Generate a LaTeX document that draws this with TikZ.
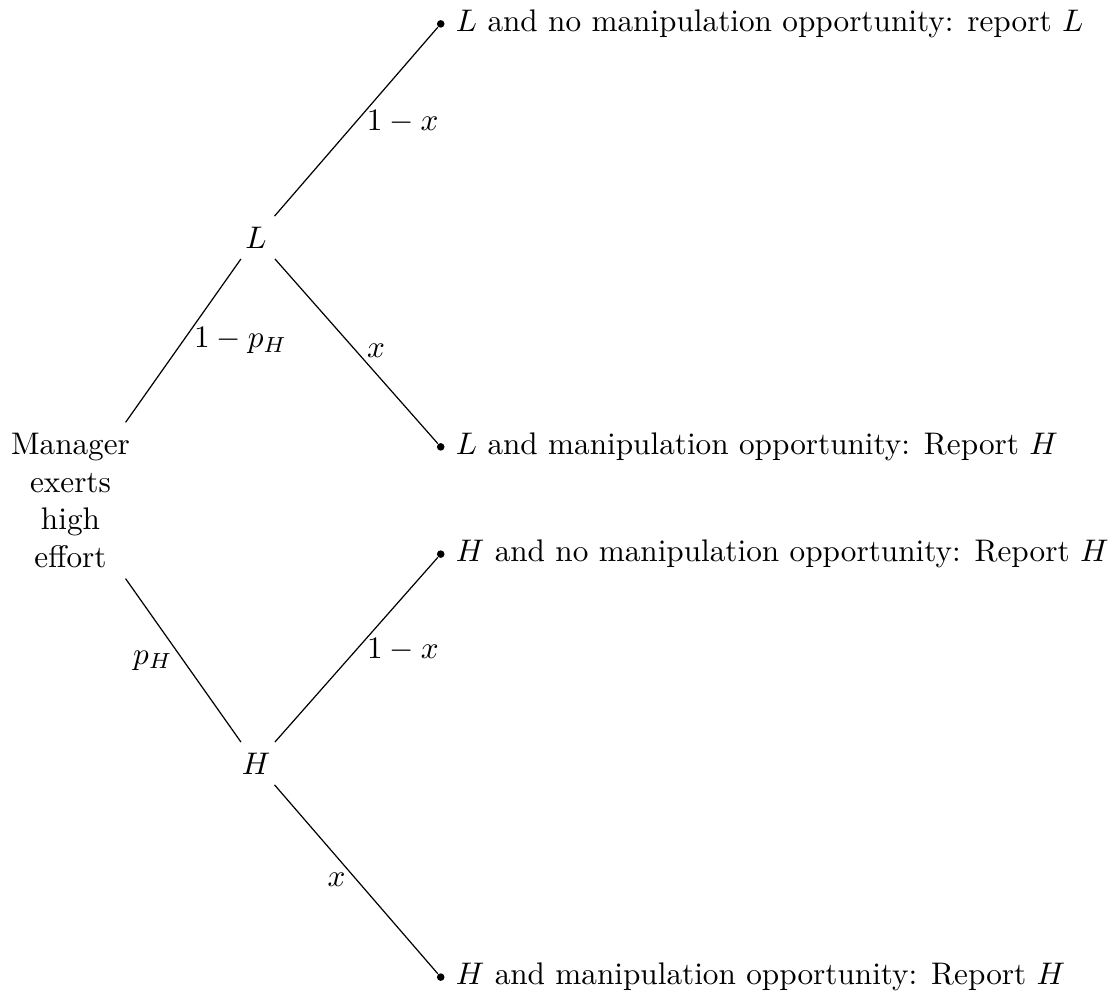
\RequirePackage{fix-cm}
\documentclass[tikz,border=0pt]{standalone}
\usepackage{amsmath}
\usetikzlibrary{positioning}
\begin{document}
\begin{tikzpicture}[
        every node/.style={font=\fontsize{10.27pt}{12.4pt}\selectfont},
        state/.style={align=center},
        leaf/.style={circle, fill, inner sep=0pt, minimum size=2.5pt},
        branch/.style={draw, thin}
    ]
        \useasboundingbox (-0.815,-5.694) rectangle (12.075,5.786);

        % Root: effort choice
        \node[state] (root) at (0,0) {Manager\\exerts\\high\\effort};

        % Stage 1: realised output
        \node[state] (outL) at (2.145,3.04) {$L$};
        \node[state] (outH) at (2.145,-3.04) {$H$};

        % Stage 2: manipulation opportunity (leaves)
        \node[leaf, label=right:{$L$ and no manipulation opportunity: report $L$}] (lnone) at (4.28,5.51) {};
        \node[leaf, label=right:{$L$ and manipulation opportunity: Report $H$}] (lmanip) at (4.28,0.62) {};
        \node[leaf, label=right:{$H$ and no manipulation opportunity: Report $H$}] (hnone) at (4.28,-0.62) {};
        \node[leaf, label=right:{$H$ and manipulation opportunity: Report $H$}] (hmanip) at (4.28,-5.51) {};

        % Branches from the root
        \draw[branch] (root) -- node[right] {$1-p_H$} (outL);
        \draw[branch] (root) -- node[left] {$p_H$} (outH);

        % Branches after L
        \draw[branch] (outL) -- node[right] {$1-x$} (lnone);
        \draw[branch] (outL) -- node[right] {$x$} (lmanip);

        % Branches after H
        \draw[branch] (outH) -- node[right] {$1-x$} (hnone);
        \draw[branch] (outH) -- node[left] {$x$} (hmanip);
    \end{tikzpicture}
\end{document}
